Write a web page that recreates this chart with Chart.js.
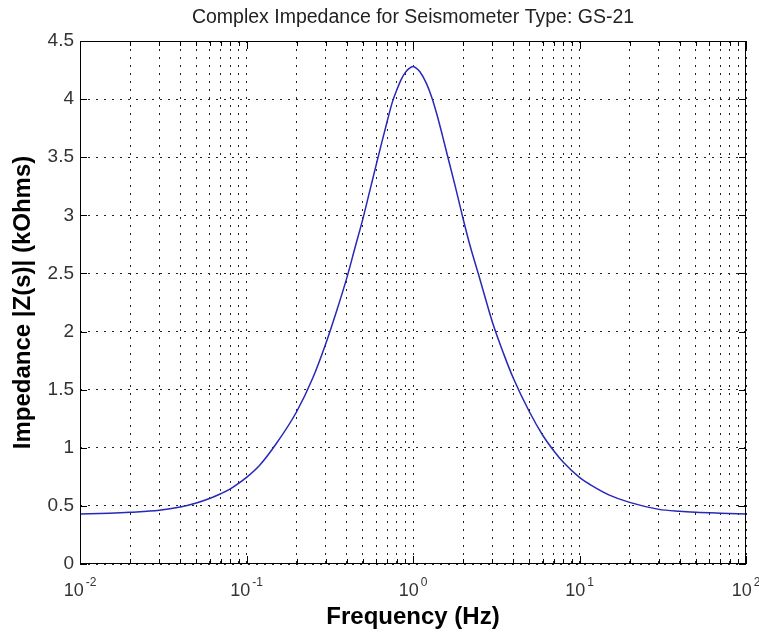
<!DOCTYPE html>
<html>
<head>
<meta charset="utf-8">
<title>Complex Impedance for Seismometer Type: GS-21</title>
<script src="https://cdn.jsdelivr.net/npm/chart.js@4.4.1/dist/chart.umd.min.js"></script>
<style>
  html, body { margin: 0; padding: 0; background: #fff; }
  canvas { display: block; }
</style>
</head>
<body>
<canvas id="chart" width="759" height="633"></canvas>
<script>
// frequency in Hz
const freq = [
  0.01, 0.015, 0.02, 0.03, 0.04, 0.05, 0.06, 0.07, 0.08, 0.09,
  0.1, 0.12, 0.15, 0.2, 0.25, 0.3, 0.35, 0.4, 0.45, 0.5,
  0.55, 0.6, 0.65, 0.7, 0.75, 0.8, 0.85, 0.9, 0.95, 1.0,
  1.05, 1.1, 1.2, 1.3, 1.4, 1.5, 1.6, 1.8, 2, 2.2,
  2.5, 3, 3.5, 4, 5, 6, 7, 8, 10, 12,
  15, 20, 30, 40, 50, 70, 100
];
// |Z(s)| in kOhms
const impedance = [
  0.43, 0.437, 0.445, 0.462, 0.49, 0.525, 0.563, 0.604, 0.646, 0.695,
  0.745, 0.85, 1.03, 1.31, 1.60, 1.90, 2.19, 2.46, 2.73, 2.97,
  3.21, 3.43, 3.63, 3.81, 3.97, 4.08, 4.17, 4.23, 4.265, 4.28,
  4.265, 4.235, 4.14, 4.01, 3.855, 3.69, 3.53, 3.24, 2.97, 2.74,
  2.47, 2.08, 1.81, 1.60, 1.31, 1.11, 0.975, 0.875, 0.745, 0.67,
  0.595, 0.53, 0.47, 0.453, 0.445, 0.437, 0.43
];
const xGrid = [
  0.01, 0.02, 0.03, 0.04, 0.05, 0.06, 0.07, 0.08, 0.09,
  0.1, 0.2, 0.3, 0.4, 0.5, 0.6, 0.7, 0.8, 0.9,
  1, 2, 3, 4, 5, 6, 7, 8, 9,
  10, 20, 30, 40, 50, 60, 70, 80, 90, 100
];
const decades = [0.01, 0.1, 1, 10, 100];
const yTicks = [0, 0.5, 1, 1.5, 2, 2.5, 3, 3.5, 4, 4.5];

const FONT = '"Liberation Sans", Arial, Helvetica, sans-serif';

// matlab style box, inward ticks and 10^n labels
const matlabAxes = {
  id: 'matlabAxes',
  afterDraw(chart) {
    const {ctx, chartArea: a, scales: {x, y}} = chart;
    ctx.save();
    ctx.strokeStyle = '#000';
    ctx.lineWidth = 1;
    ctx.beginPath();
    xGrid.forEach((v) => {
      const px = Math.round(x.getPixelForValue(v)) + 0.5;
      const len = decades.includes(v) ? 8 : 5;
      ctx.moveTo(px, a.bottom);
      ctx.lineTo(px, a.bottom - len);
      ctx.moveTo(px, a.top);
      ctx.lineTo(px, a.top + len);
    });
    yTicks.forEach((v) => {
      const py = Math.round(y.getPixelForValue(v)) + 0.5;
      ctx.moveTo(a.left, py);
      ctx.lineTo(a.left + 7, py);
      ctx.moveTo(a.right, py);
      ctx.lineTo(a.right - 7, py);
    });
    ctx.stroke();
    ctx.strokeRect(a.left + 0.5, a.top + 0.5, a.right - a.left - 1, a.bottom - a.top - 1);

    ctx.fillStyle = '#333';
    ctx.textBaseline = 'alphabetic';
    ctx.textAlign = 'left';
    decades.forEach((v) => {
      const px = x.getPixelForValue(v);
      const exp = String(Math.round(Math.log10(v)));
      ctx.font = '18px ' + FONT;
      const w1 = ctx.measureText('10').width;
      ctx.font = '12px ' + FONT;
      const w2 = ctx.measureText(exp).width;
      const x0 = px - (w1 + 2 + w2) / 2;
      ctx.font = '18px ' + FONT;
      ctx.fillText('10', x0, 596);
      ctx.font = '12px ' + FONT;
      ctx.fillText(exp, x0 + w1 + 2, 586);
    });
    ctx.restore();
  }
};

new Chart(document.getElementById('chart'), {
  type: 'line',
  data: {
    datasets: [{
      data: freq.map((f, i) => ({x: f, y: impedance[i]})),
      borderColor: '#2828b8',
      borderWidth: 1.5,
      pointRadius: 0,
      cubicInterpolationMode: 'monotone',
      fill: false
    }]
  },
  options: {
    responsive: false,
    animation: false,
    layout: {padding: {left: 0, right: 13, top: 0, bottom: 0}},
    plugins: {
      legend: {display: false},
      tooltip: {enabled: false},
      title: {
        display: true,
        fullSize: false,
        text: 'Complex Impedance for Seismometer Type: GS-21',
        color: '#222',
        font: {family: FONT, size: 19.5, weight: 'normal', lineHeight: 1.2},
        padding: {top: 6, bottom: 11.6}
      }
    },
    scales: {
      x: {
        type: 'logarithmic',
        min: 0.01,
        max: 100,
        afterBuildTicks: (scale) => { scale.ticks = xGrid.map((v) => ({value: v})); },
        afterFit: (scale) => { scale.height = 69; scale.paddingLeft = 0; scale.paddingRight = 0; },
        ticks: {callback: () => '', autoSkip: false, maxRotation: 0},
        grid: {color: '#222', lineWidth: 1, drawTicks: false},
        border: {display: false, dash: [2, 6]},
        title: {
          display: true,
          text: 'Frequency (Hz)',
          color: '#000',
          font: {family: FONT, size: 24, weight: 'bold'},
          padding: {top: 0, bottom: 1}
        }
      },
      y: {
        min: 0,
        max: 4.5,
        afterBuildTicks: (scale) => { scale.ticks = yTicks.map((v) => ({value: v})); },
        afterFit: (scale) => { scale.width = 80; },
        ticks: {
          callback: (v) => String(v),
          color: '#333',
          padding: 6,
          font: {family: FONT, size: 19}
        },
        grid: {color: '#222', lineWidth: 1, drawTicks: false},
        border: {display: false, dash: [2, 6]},
        title: {
          display: true,
          text: 'Impedance |Z(s)| (kOhms)',
          color: '#000',
          font: {family: FONT, size: 24, weight: 'bold'},
          padding: {top: 9, bottom: 0}
        }
      }
    }
  },
  plugins: [matlabAxes]
});
</script>
</body>
</html>
